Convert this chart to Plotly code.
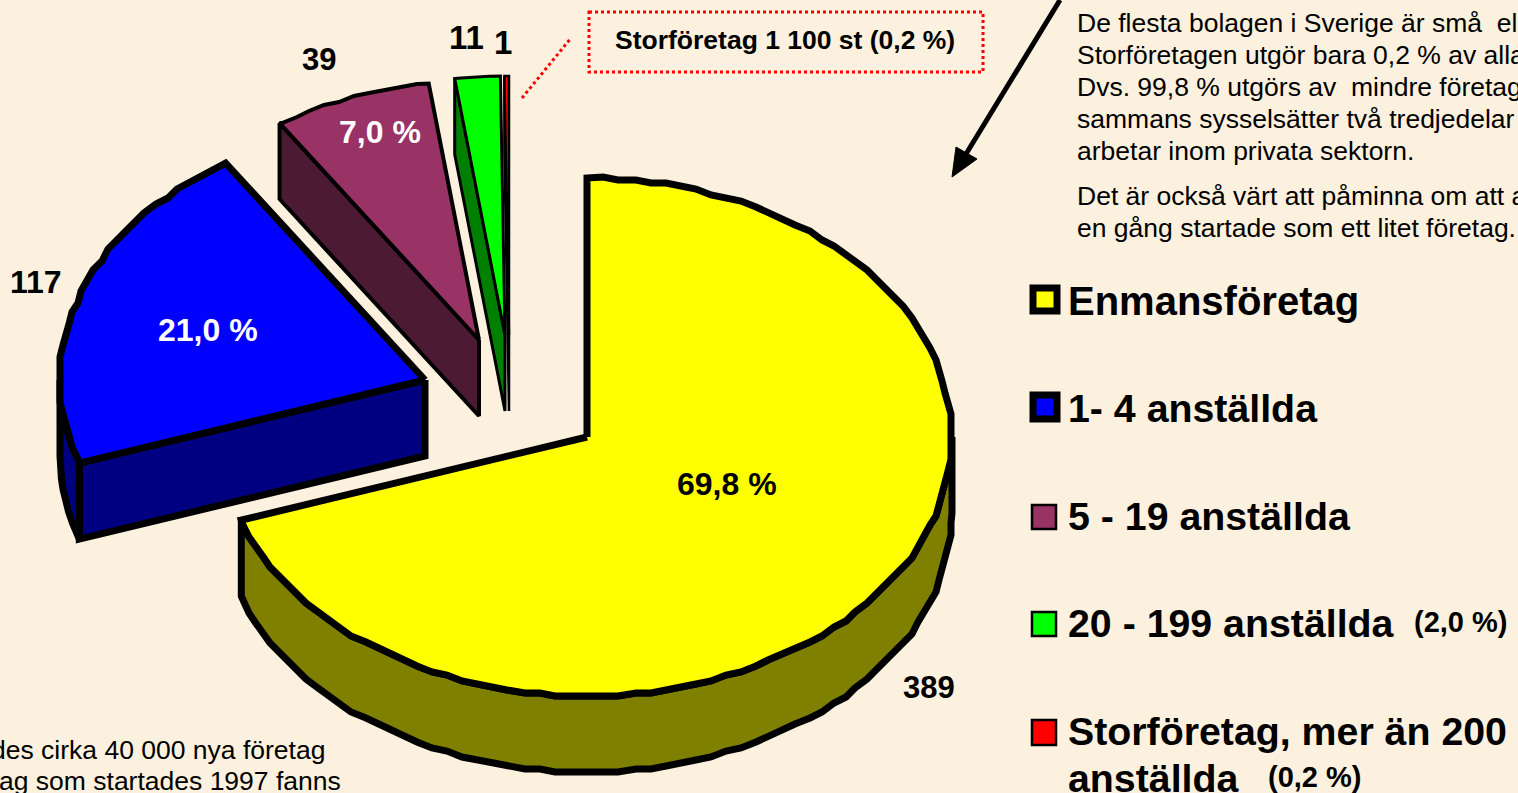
import numpy as np
import plotly.graph_objects as go

# ---- data ----
categories = ["Enmansföretag", "1- 4 anställda", "5 - 19 anställda", "20 - 199 anställda", "Storföretag, mer än 200 anställda"]
shares = [69.8, 21.0, 7.0, 2.0, 0.2]
counts = [389, 117, 39, 11, 1]
share_labels = ["69,8 %", "21,0 %", "7,0 %", "", ""]
top_colors = ["#FFFF00", "#0000FF", "#993366", "#00FF00", "#FF0000"]
side_colors = ["#808000", "#000080", "#4D1A33", "#008000", "#800000"]

# ---- pie geometry (pixel space) ----
RX, RY, DEPTH = 365, 259, 76
apex_x = [587, 425, 479, 505, 509]
apex_y = [437, 380, 340, 335, 335]
line_w = [7, 7, 4, 3, 2.5]
STEP = 2.5
GRID = 3   # the reference's outline is slightly stepped, like a low-resolution polygon

BG = "#FBF1DE"
FONT = "Liberation Sans"


def rim(cx, cy, a0, a1, dy=0):
    inner = np.arange(np.ceil(a0 / STEP) * STEP, a1, STEP)
    inner = inner[inner > a0]
    a = np.radians(np.r_[a0, inner, a1])
    x, y = cx + RX * np.sin(a), cy - RY * np.cos(a)
    if abs(a1 - a0) > 20:
        x[1:-1] = np.round(x[1:-1] / GRID) * GRID
        y[1:-1] = np.round(y[1:-1] / GRID) * GRID
    return x, y + dy


fig = go.Figure()


def poly(xs, ys, fill, width):
    fig.add_trace(go.Scatter(x=list(xs), y=list(ys), mode="lines", fill="toself",
                             fillcolor=fill, line=dict(color="black", width=width),
                             hoverinfo="skip", showlegend=False))


edges = np.concatenate([[0], np.cumsum(shares)]) * 3.6
for i in reversed(range(len(shares))):
    a0, a1 = edges[i], edges[i + 1]
    cx, cy, w = apex_x[i], apex_y[i], line_w[i]
    # cut face at the start angle, visible for slices on the left half
    if a0 > 180:
        ex, ey = cx + RX * np.sin(np.radians(a0)), cy - RY * np.cos(np.radians(a0))
        poly([cx, ex, ex, cx, cx], [cy, ey, ey + DEPTH, cy + DEPTH, cy], side_colors[i], w)
    # outer wall, front-facing part only
    lo, hi = max(a0, 90), min(a1, 270)
    if hi > lo:
        tx, ty = rim(cx, cy, lo, hi)
        poly(np.r_[tx, tx[::-1], tx[0]], np.r_[ty, ty[::-1] + DEPTH, ty[0]], side_colors[i], w)
    # top surface
    tx, ty = rim(cx, cy, a0, a1)
    poly(np.r_[cx, tx, cx], np.r_[cy, ty, cy], top_colors[i], w)

shapes = []
# legend swatches
sw = [(1033, 288, 1057, 311, 7), (1033, 395, 1057, 419, 7), (1032, 505, 1056, 529, 2.5),
      (1032, 612, 1056, 636, 2.5), (1032, 720, 1056, 745, 2.5)]
for (x0, y0, x1, y1, w), c in zip(sw, top_colors):
    shapes.append(dict(type="rect", x0=x0, y0=y0, x1=x1, y1=y1, fillcolor=c, line=dict(color="black", width=w)))
# dotted call-out
shapes.append(dict(type="rect", x0=589, y0=12, x1=983, y1=72, line=dict(color="#FF0000", width=3, dash="dot")))
shapes.append(dict(type="line", x0=522, y0=98, x1=571, y1=38, line=dict(color="#FF0000", width=3, dash="dot")))
# arrow
shapes.append(dict(type="line", x0=1060, y0=0, x1=966, y1=154, line=dict(color="black", width=5)))
shapes.append(dict(type="path", path="M 952 177 L 977 159 L 956 147 Z", fillcolor="black", line=dict(color="black", width=1)))


def txt(x, y, s, size, bold=False, color="black", anchor="left"):
    s = f"<b>{s}</b>" if bold else s
    return dict(x=x, y=y, text=s, showarrow=False, xanchor=anchor, yanchor="middle", align="left",
                font=dict(family=FONT, size=size, color=color))


ann = []
# slice labels
ann.append(txt(727, 484, share_labels[0], 32, True, "black", "center"))
ann.append(txt(208, 330, share_labels[1], 32, True, "white", "center"))
ann.append(txt(380, 132, share_labels[2], 32, True, "white", "center"))
# counts
for x, y, c, s in zip([929, 36, 319, 466, 503], [687, 282, 59, 37, 42], counts, [31, 32, 31, 33, 33]):
    ann.append(txt(x, y, str(c), s, True, "black", "center"))
ann.append(txt(785, 40, "Storföretag 1 100 st (0,2 %)", 26.5, True, "black", "center"))
# body text
BODY = 26.5
body = ["De flesta bolagen i Sverige är små  el", "Storföretagen utgör bara 0,2 % av alla",
        "Dvs. 99,8 % utgörs av  mindre företag", "sammans sysselsätter två tredjedelar",
        "arbetar inom privata sektorn."]
for y, s in zip([23, 55, 87, 119, 151], body):
    ann.append(txt(1075, y, s, BODY))
ann.append(txt(1075, 196, "Det är också värt att påminna om att a", BODY))
ann.append(txt(1075, 228, "en gång startade som ett litet företag.", BODY))
ann.append(txt(327, 750, "des cirka 40 000 nya företag", BODY, anchor="right"))
ann.append(txt(343, 781, "ag som startades 1997 fanns", BODY, anchor="right"))
# legend text
LEG = 39.3
ann.append(txt(1066, 301, categories[0], 40, True))
ann.append(txt(1066, 408, categories[1], LEG, True))
ann.append(txt(1066, 516, categories[2], LEG, True))
ann.append(txt(1066, 623, categories[3], LEG, True))
ann.append(txt(1412, 622, "(2,0 %)", 29, True))
ann.append(txt(1066, 731, "Storföretag, mer än 200", LEG, True))
ann.append(txt(1066, 778, "anställda", LEG, True))
ann.append(txt(1266, 777, "(0,2 %)", 29, True))

fig.update_layout(
    width=1518, height=793, margin=dict(l=0, r=0, t=0, b=0),
    paper_bgcolor=BG, plot_bgcolor=BG, showlegend=False,
    xaxis=dict(range=[0, 1518], visible=False, fixedrange=True),
    yaxis=dict(range=[793, 0], visible=False, fixedrange=True),
    shapes=shapes, annotations=ann,
)
fig.write_html("out.html", config={"displayModeBar": False},
               post_script="document.body.style.margin='0';document.body.style.overflow='hidden';document.body.style.background='" + BG + "';")
